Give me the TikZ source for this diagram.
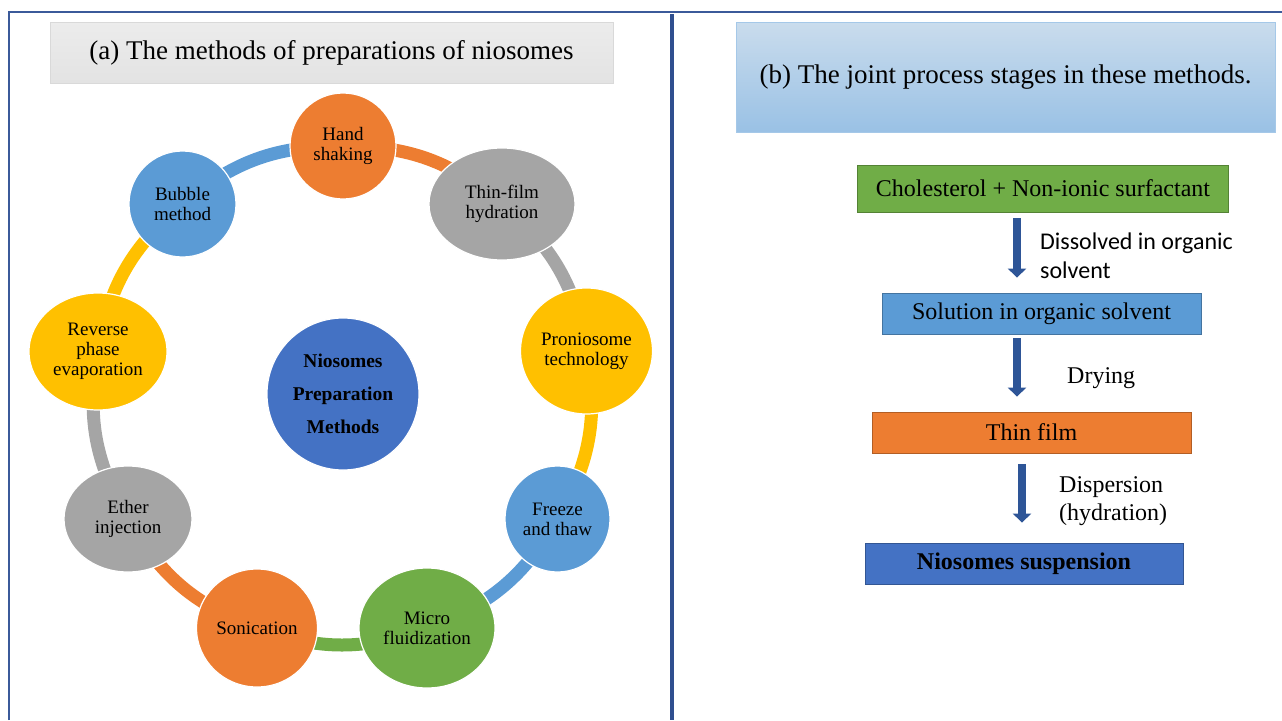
\documentclass[tikz,border=0pt]{standalone}
\usepackage{fontspec}
\setmainfont{Liberation Serif}
\newfontfamily\calib{Carlito}
\usetikzlibrary{shapes.geometric,arrows.meta,calc}
\pgfdeclarelayer{background}
\pgfsetlayers{background,main}
\definecolor{corange}{HTML}{ED7D31}
\definecolor{cgray}{HTML}{A5A5A5}
\definecolor{cyellow}{HTML}{FFC000}
\definecolor{cblue}{HTML}{5B9BD5}
\definecolor{cgreen}{HTML}{70AD47}
\definecolor{cdblue}{HTML}{4472C4}
\definecolor{frameblue}{HTML}{3B5A9A}
\definecolor{divblue}{HTML}{2F4F8F}
\definecolor{arrowblue}{HTML}{2E5597}
\begin{document}
\begin{tikzpicture}[x=1pt,y=1pt,
  meth/.style={ellipse, draw=white, line width=1.2pt, inner sep=0pt, align=center,
    font=\fontsize{19}{20}\selectfont},
  hub/.style={circle, fill=cdblue, draw=white, line width=1.2pt, inner sep=0pt, align=center,
    font=\fontsize{19.5}{33}\selectfont\bfseries, minimum size=152pt},
  link/.style={line width=13pt, bend left=20},
  headbox/.style={rectangle, inner sep=0pt, font=\fontsize{27}{30}\selectfont},
  stagebox/.style={rectangle, inner sep=0pt, fill=#1, draw=#1!75!black, line width=0.8pt,
    font=\fontsize{24}{28}\selectfont},
  flow/.style={draw=arrowblue, line width=8pt, -{Triangle[width=18pt,length=9pt]}},
  lbl/.style={inner sep=0pt, align=left, font=\fontsize{24}{28}\selectfont},
]
\useasboundingbox (0,0) rectangle (1282,-720);

% frame
\draw[frameblue, line width=1.8pt] (9,-720) -- (9,-12) -- (1282,-12);
\draw[divblue, line width=4.5pt] (672,-14) -- (672,-720);

% (a) title
\node[headbox, minimum width=563pt, minimum height=61pt, top color=white!85!gray, bottom color=white!78!gray, draw=white!70!gray, line width=0.8pt]
  (ta) at (331.5,-52.5) {(a) The methods of preparations of niosomes};

% methods
\node[meth, fill=corange, minimum width=106pt, minimum height=106pt] (hand) at (343,-146) {Hand\\shaking};
\node[meth, fill=cgray, minimum width=146pt, minimum height=112pt] (thin) at (502,-204) {Thin-film\\hydration};
\node[meth, fill=cyellow, minimum width=132pt, minimum height=126pt] (pro) at (586.5,-351) {Proniosome\\technology};
\node[meth, fill=cblue, minimum width=105pt, minimum height=106pt] (freeze) at (557.5,-519) {Freeze\\and thaw};
\node[meth, fill=cgreen, minimum width=136pt, minimum height=120pt] (micro) at (427,-628) {Micro\\fluidization};
\node[meth, fill=corange, minimum width=121pt, minimum height=118pt] (son) at (257,-628) {Sonication};
\node[meth, fill=cgray, minimum width=128pt, minimum height=106pt] (ether) at (128,-519) {Ether\\injection};
\node[meth, fill=cyellow, minimum width=138pt, minimum height=117pt] (rev) at (98,-351.5) {Reverse\\phase\\evaporation};
\node[meth, fill=cblue, minimum width=107pt, minimum height=106pt] (bubble) at (182.5,-204) {Bubble\\method};
\node[hub] (hubn) at (343,-394) {Niosomes\\Preparation\\Methods};

\begin{pgfonlayer}{background}
\draw[link, corange] (hand.center) to (thin.center);
\draw[link, cgray] (thin.center) to (pro.center);
\draw[link, cyellow] (pro.center) to (freeze.center);
\draw[link, cblue] (freeze.center) to (micro.center);
\draw[link, cgreen] (micro.center) to (son.center);
\draw[link, corange] (son.center) to (ether.center);
\draw[link, cgray] (ether.center) to (rev.center);
\draw[link, cyellow] (rev.center) to (bubble.center);
\draw[link, cblue] (bubble.center) to (hand.center);
\end{pgfonlayer}

% (b) title
\node[headbox, minimum width=539pt, minimum height=110pt, top color=cblue!30!white!95!gray, bottom color=cblue!62!white, draw=cblue!55!white, line width=0.8pt]
  (tb) at (1005.5,-77) {(b) The joint process stages in these methods.};

% stages
\node[stagebox=cgreen, minimum width=371pt, minimum height=47pt] (chol) at (1043,-188.5) {Cholesterol + Non-ionic surfactant};
\node[stagebox=cblue, minimum width=319pt, minimum height=41pt] (sol) at (1041.5,-313.5) {Solution in organic solvent};
\node[stagebox=corange, minimum width=319pt, minimum height=41pt] (film) at (1031.5,-432.5) {Thin film};
\node[stagebox=cdblue, minimum width=318pt, minimum height=41pt, font=\fontsize{24}{28}\selectfont\bfseries] (nio) at (1024,-563.5) {Niosomes suspension};

\coordinate (ax1) at (1017,0);
\coordinate (ax2) at (1017,0);
\coordinate (ax3) at (1022,0);
\draw[flow, shorten <=6pt, shorten >=15pt] (chol.south -| ax1) -- (sol.north -| ax1);
\draw[flow, shorten <=4pt, shorten >=15pt] (sol.south -| ax2) -- (film.north -| ax2);
\draw[flow, shorten <=11pt, shorten >=20pt] (film.south -| ax3) -- (nio.north -| ax3);

\node[lbl, anchor=north west, font=\calib\fontsize{24}{29}\selectfont] (l1) at (1040,-233) {Dissolved in organic\\solvent};
\node[lbl, anchor=base west] (l2) at (1067,-383) {Drying};
\node[lbl, anchor=north west] (l3) at (1059,-476) {Dispersion\\(hydration)};
\end{tikzpicture}
\end{document}
